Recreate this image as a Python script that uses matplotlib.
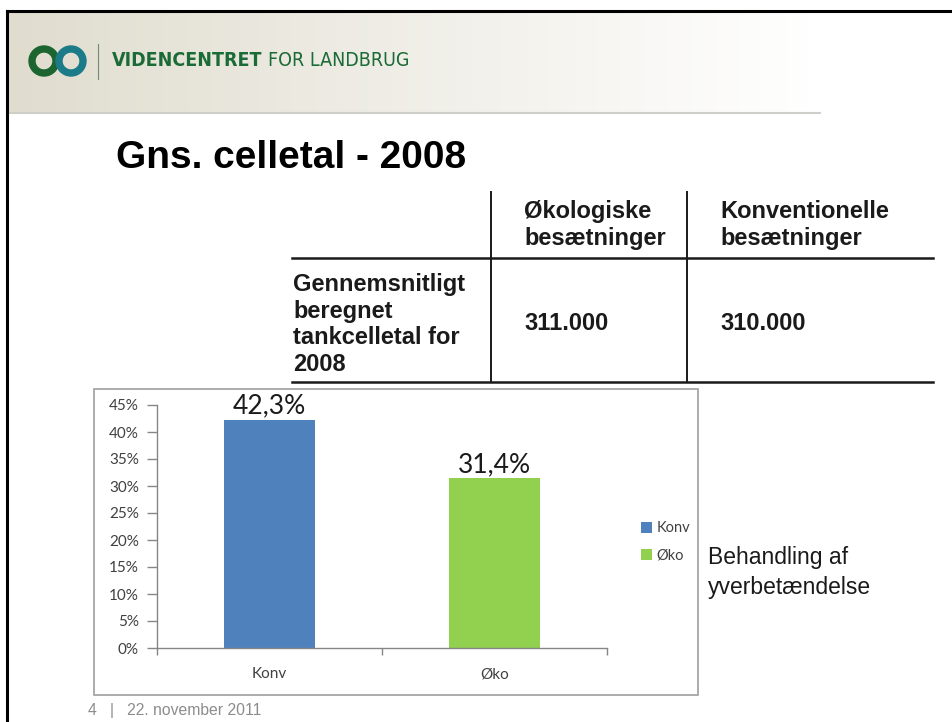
import numpy as np
import matplotlib
matplotlib.use('Agg')
import matplotlib.pyplot as plt
from matplotlib.patches import Rectangle, Wedge
from matplotlib.ticker import FuncFormatter, FixedLocator

# Data
categories = ['Konv', 'Øko']
treated_pct = [42.3, 31.4]
bar_colors = ['#4f81bd', '#92d050']
y_ticks = [0, 5, 10, 15, 20, 25, 30, 35, 40, 45]

table_cols = ['Økologiske\nbesætninger', 'Konventionelle\nbesætninger']
table_row = 'Gennemsnitligt\nberegnet\ntankcelletal for\n2008'
table_vals = ['311.000', '310.000']

title = 'Gns. celletal - 2008'
side_note = 'Behandling af\nyverbetændelse'
footer = '4   |   22. november 2011'

W, H = 952, 722
fig = plt.figure(figsize=(W / 100, H / 100), dpi=100)
fig.patch.set_facecolor('white')

# slide layer in pixel coordinates
bg = fig.add_axes([0, 0, 1, 1])
bg.set_xlim(0, W)
bg.set_ylim(H, 0)
bg.axis('off')

# header band gradient
grad = np.linspace(0, 1, 256)
rgb = np.zeros((1, 256, 3))
left = np.array([224, 221, 207]) / 255
for i, g in enumerate(grad):
    t = min(g / 0.85, 1.0)
    rgb[0, i] = left * (1 - t) + np.array([1, 1, 1]) * t
bg.imshow(rgb, extent=[7, W, 113, 11], aspect='auto', zorder=0)
bg.plot([7, 820], [113, 113], color='#cfcfc8', lw=1.5, zorder=1)

# slide border
bg.plot([7, W], [11, 11], color='black', lw=2.2, zorder=3)
bg.plot([7, 7], [11, H], color='black', lw=2.2, zorder=3)

# logo
bg.add_patch(Wedge((44, 61), 15, 0, 360, width=6, color='#1c6530', zorder=2))
bg.add_patch(Wedge((71, 61), 15, 0, 360, width=6, color='#1b7b88', zorder=2))
bg.plot([98, 98], [44, 79], color='#6f8f6f', lw=0.8, zorder=2)
hdr = bg.text(112, 61, 'VIDENCENTRET', family='DejaVu Sans', fontstretch='condensed',
              fontweight='bold', fontsize=14, color='#1a6b35', va='center', ha='left')
fig.canvas.draw()
ext = hdr.get_window_extent()
bg.text(ext.x1 + 6, 61, 'FOR LANDBRUG', family='DejaVu Sans', fontstretch='condensed',
        fontsize=14, color='#1a6b35', va='center', ha='left')

# title
bg.text(116, 168, title, family='Liberation Sans', fontweight='bold',
        fontsize=28, color='black', va='baseline', ha='left')

# table
tkw = dict(family='Liberation Sans', fontweight='bold', fontsize=17,
           color='#1a1a1a', va='baseline', ha='left', linespacing=1.2)
bg.plot([292, 933], [258, 258], color='#1a1a1a', lw=1.8)
bg.plot([292, 933], [382, 382], color='#1a1a1a', lw=1.8)
bg.plot([491, 491], [192, 382], color='#1a1a1a', lw=1.4)
bg.plot([687, 687], [192, 382], color='#1a1a1a', lw=1.4)
bg.text(524, 245, table_cols[0], **tkw)
bg.text(720, 245, table_cols[1], **tkw)
bg.text(293, 371, table_row, **tkw)
bg.text(524, 330, table_vals[0], **tkw)
bg.text(720, 330, table_vals[1], **tkw)

# chart frame
bg.add_patch(Rectangle((94, 389), 604, 306, fill=False, ec='#a6a6a6', lw=1.3, zorder=2))

# side note + footer
bg.text(708, 594, side_note, family='Liberation Sans', fontsize=16.5,
        color='#1a1a1a', va='baseline', ha='left', linespacing=1.4)
bg.text(88, 715, footer, family='Liberation Sans', fontsize=11.3,
        color='#8c8c8c', va='baseline', ha='left')

# bar chart
ax = fig.add_axes([157 / W, (H - 648) / H, 450 / W, 243 / H])
ax.set_facecolor('none')
x = np.arange(len(categories))
bars = ax.bar(x, treated_pct, width=0.405, color=bar_colors, label=categories, zorder=2)
ax.set_xlim(-0.5, len(categories) - 0.5)
ax.set_ylim(0, 45)
ax.set_yticks(y_ticks)
ax.yaxis.set_major_formatter(FuncFormatter(lambda v, p: f'{v:.0f}%'))
ax.set_xticks(x)
ax.set_xticklabels(categories)
ax.xaxis.set_minor_locator(FixedLocator([-0.5, 0.5, 1.5]))
for s in ['top', 'right']:
    ax.spines[s].set_visible(False)
for s in ['left', 'bottom']:
    ax.spines[s].set_color('#868686')
    ax.spines[s].set_linewidth(1.0)
ax.tick_params(axis='y', length=7, width=1, color='#868686', labelsize=11,
               labelcolor='#404040', pad=6)
ax.tick_params(axis='x', which='major', length=0, labelsize=11,
               labelcolor='#404040', pad=14)
ax.tick_params(axis='x', which='minor', length=5, width=1, color='#868686')
for lab in ax.get_xticklabels() + ax.get_yticklabels():
    lab.set_family('Lato')

ax.bar_label(bars, labels=[f'{v:.1f}%'.replace('.', ',') for v in treated_pct],
             padding=1, fontsize=19, family='Lato', color='#1a1a1a')

leg = fig.legend(handles=list(bars), labels=categories, loc='center left',
                 bbox_to_anchor=(628 / W, 1 - 542 / H), frameon=False,
                 handlelength=0.75, handleheight=0.75, handletextpad=0.3,
                 labelspacing=0.9, prop={'family': 'Lato', 'size': 10.5})
for t in leg.get_texts():
    t.set_color('#404040')

fig.savefig('out.png', dpi=100)
